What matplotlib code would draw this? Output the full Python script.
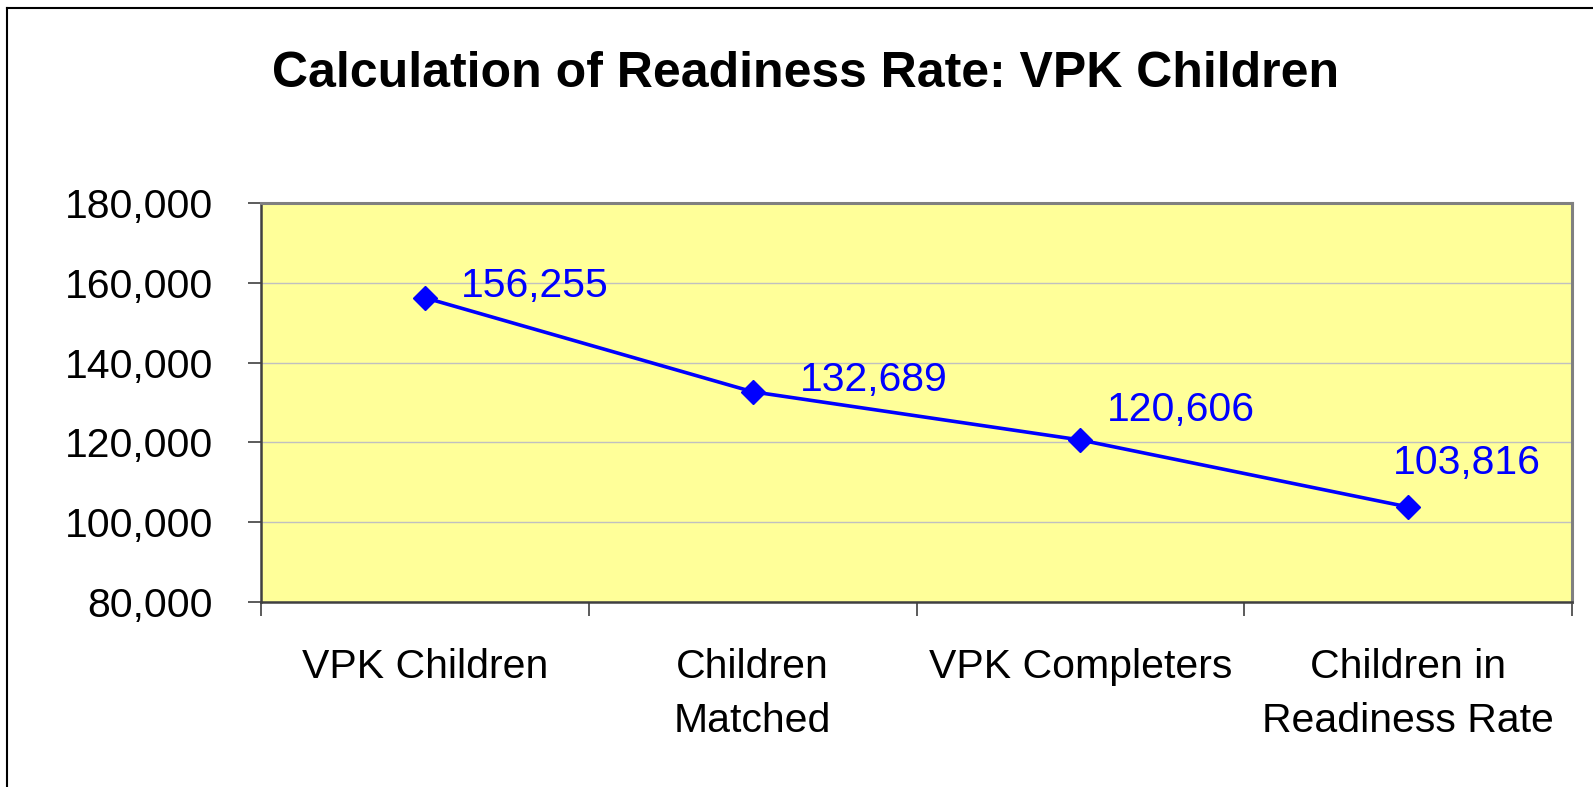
import matplotlib
matplotlib.use("Agg")
import matplotlib.pyplot as plt
from matplotlib.lines import Line2D
from matplotlib.ticker import FuncFormatter, FixedLocator

# chart data
categories = ["VPK Children", "Children\nMatched", "VPK Completers", "Children in\nReadiness Rate"]
counts = [156255, 132689, 120606, 103816]
y_ticks = [80000, 100000, 120000, 140000, 160000, 180000]

# hand-placed label offsets (points), like the original chart
label_offsets = [(26, 8.5), (34, 8.5), (19, 21.5), (-11, 31.5)]

plt.rcParams["font.family"] = ["Liberation Sans", "DejaVu Sans"]

W, H = 1593, 787
fig = plt.figure(figsize=(W / 100, H / 100), dpi=100)
ax = fig.add_axes([261 / W, 1 - 602 / H, (1572 - 261) / W, (602 - 203) / H])

ax.set_facecolor("#FFFF99")
x = list(range(len(categories)))
ax.plot(x, counts, color="#0000FF", linewidth=2.6, marker="D", markersize=12, zorder=3)

for xi, v, off in zip(x, counts, label_offsets):
    ax.annotate(f"{v:,}", (xi, v), xytext=off, textcoords="offset points",
                ha="left", va="center", fontsize=29.5, color="#0000FF")

ax.set_xlim(-0.5, len(categories) - 0.5)
ax.set_ylim(y_ticks[0], y_ticks[-1])
ax.set_yticks(y_ticks)
ax.yaxis.set_major_formatter(FuncFormatter(lambda v, p: f"{int(v):,}"))
ax.grid(axis="y", color="#C0C0C0", linewidth=1)
ax.set_axisbelow(True)

# category labels in the middle, tick marks between categories
ax.set_xticks(x)
ax.set_xticklabels(categories, fontsize=29.5, linespacing=1.55)
ax.xaxis.set_minor_locator(FixedLocator([i - 0.5 for i in range(len(categories) + 1)]))
ax.tick_params(axis="x", which="major", length=0, pad=33)
ax.tick_params(axis="x", which="minor", length=10, width=1.2, color="#404040")
ax.tick_params(axis="y", labelsize=29.5, length=9.5, width=1.2, color="#404040", pad=25)

for side in ["top", "right"]:
    ax.spines[side].set_color("#808080")
    ax.spines[side].set_linewidth(2.2)
for side in ["left", "bottom"]:
    ax.spines[side].set_color("#404040")
    ax.spines[side].set_linewidth(1.8)

fig.text(806 / W, 1 - 74 / H, "Calculation of Readiness Rate: VPK Children",
         ha="center", va="center", fontsize=36, fontweight="bold")

# chart area border (only left and top are visible in the crop)
bx, by = 7 / W, 1 - 8 / H
fig.add_artist(Line2D([bx, bx], [0, by], transform=fig.transFigure, color="black", linewidth=1.5))
fig.add_artist(Line2D([bx, 1], [by, by], transform=fig.transFigure, color="black", linewidth=1.5))

fig.savefig("out.png", dpi=100)
